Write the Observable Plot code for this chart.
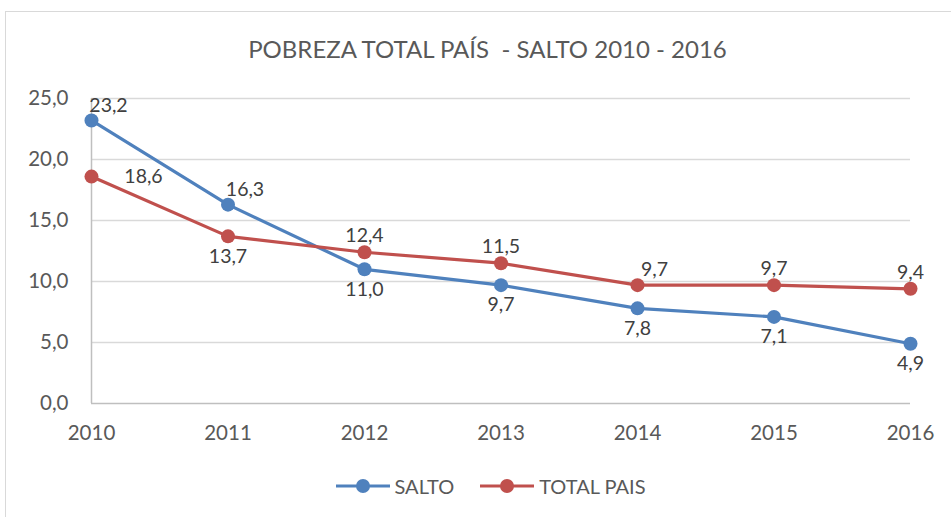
<!DOCTYPE html>
<html>
<head>
<meta charset="utf-8">
<script src="https://cdn.jsdelivr.net/npm/d3@7"></script>
<script src="https://cdn.jsdelivr.net/npm/@observablehq/plot@0.6"></script>
<style>
  html, body { margin: 0; padding: 0; background: #fff; overflow: hidden; }
  body { width: 951px; height: 517px; position: relative; font-family: Lato, "Open Sans", sans-serif; color: #595959; }
  #frame { position: absolute; left: 5px; top: 11px; width: 960px; height: 520px; border: 1px solid #d9d9d9; box-sizing: border-box; }
  #title { position: absolute; left: 0; width: 975px; top: 34px; text-align: center; font-size: 24px; color: #595959; white-space: pre; }
  #chart { position: absolute; left: 0; top: 0; }
  #legend { position: absolute; left: 0; width: 981px; top: 474px; text-align: center; font-size: 20px; color: #595959; }
  #legend span.item { display: inline-flex; align-items: center; margin: 0 13px; }
  #legend svg { margin-right: 5px; }
</style>
</head>
<body>
<div id="frame"></div>
<div id="title">POBREZA TOTAL PAÍS  - SALTO 2010 - 2016</div>
<div id="chart"></div>
<div id="legend"></div>
<script>
const years = [2010, 2011, 2012, 2013, 2014, 2015, 2016];
const salto = [23.2, 16.3, 11.0, 9.7, 7.8, 7.1, 4.9];
const totalPais = [18.6, 13.7, 12.4, 11.5, 9.7, 9.7, 9.4];
const seriesNames = ["SALTO", "TOTAL PAIS"];
const yTicks = [0, 5, 10, 15, 20, 25];

// label placement (style, not data)
const saltoPlace = ["aboveR", "aboveR", "below", "below", "below", "below", "below"];
const totalPlace = ["right", "below", "above", "above", "aboveR", "above", "above"];

const colors = {"SALTO": "#4f81bd", "TOTAL PAIS": "#c0504d"};
const fmt = d => d.toFixed(1).replace(".", ",");

const rows = [];
years.forEach((y, i) => {
  rows.push({year: y, value: salto[i], series: seriesNames[0], place: saltoPlace[i]});
});
years.forEach((y, i) => {
  rows.push({year: y, value: totalPais[i], series: seriesNames[1], place: totalPlace[i]});
});

const offsets = {
  above: {dx: 0, dy: -16},
  aboveR: {dx: 17, dy: -15},
  below: {dx: 0, dy: 20},
  right: {dx: 52, dy: 0}
};
const labelMarks = Object.entries(offsets).map(([k, o]) =>
  Plot.text(rows.filter(r => r.place === k), {
    x: "year", y: "value", text: d => fmt(d.value),
    dx: o.dx, dy: o.dy, fill: "#404040", fontSize: 19.5, textAnchor: "middle"
  })
);

const chart = Plot.plot({
  width: 951,
  height: 460,
  marginTop: 98,
  marginBottom: 57,
  marginLeft: 91,
  marginRight: 41,
  style: {fontFamily: "Lato, 'Open Sans', sans-serif", fontSize: "20px", color: "#595959", background: "transparent"},
  x: {domain: [2010, 2016], ticks: years, tickFormat: d => String(d), tickSize: 0, tickPadding: 22, label: null},
  y: {domain: [0, 25], ticks: yTicks, tickFormat: fmt, tickSize: 0, tickPadding: 23, label: null},
  color: {domain: seriesNames, range: seriesNames.map(s => colors[s])},
  marks: [
    Plot.ruleY(yTicks.filter(t => t > 0), {stroke: "#d9d9d9", strokeWidth: 1.5}),
    Plot.ruleX([2010], {stroke: "#bfbfbf", strokeWidth: 1.5}),
    Plot.ruleY([0], {stroke: "#bfbfbf", strokeWidth: 1.5}),
    Plot.axisX({ticks: years, tickFormat: d => String(d), tickSize: 0, tickPadding: 22, fill: "#595959", fontSize: 20.5, label: null}),
    Plot.axisY({ticks: yTicks, tickFormat: fmt, tickSize: 0, tickPadding: 23, fill: "#595959", fontSize: 20.5, label: null}),
    Plot.line(rows, {x: "year", y: "value", stroke: "series", strokeWidth: 3.2}),
    Plot.dot(rows, {x: "year", y: "value", fill: "series", r: 7}),
    ...labelMarks
  ]
});
document.getElementById("chart").appendChild(chart);

const legend = document.getElementById("legend");
seriesNames.forEach(s => {
  const item = document.createElement("span");
  item.className = "item";
  item.innerHTML = `<svg width="54" height="18"><line x1="0" y1="9" x2="54" y2="9" stroke="${colors[s]}" stroke-width="3.2"/><circle cx="27" cy="9" r="7" fill="${colors[s]}"/></svg>`;
  const t = document.createElement("span");
  t.textContent = s;
  item.appendChild(t);
  legend.appendChild(item);
});
</script>
</body>
</html>
